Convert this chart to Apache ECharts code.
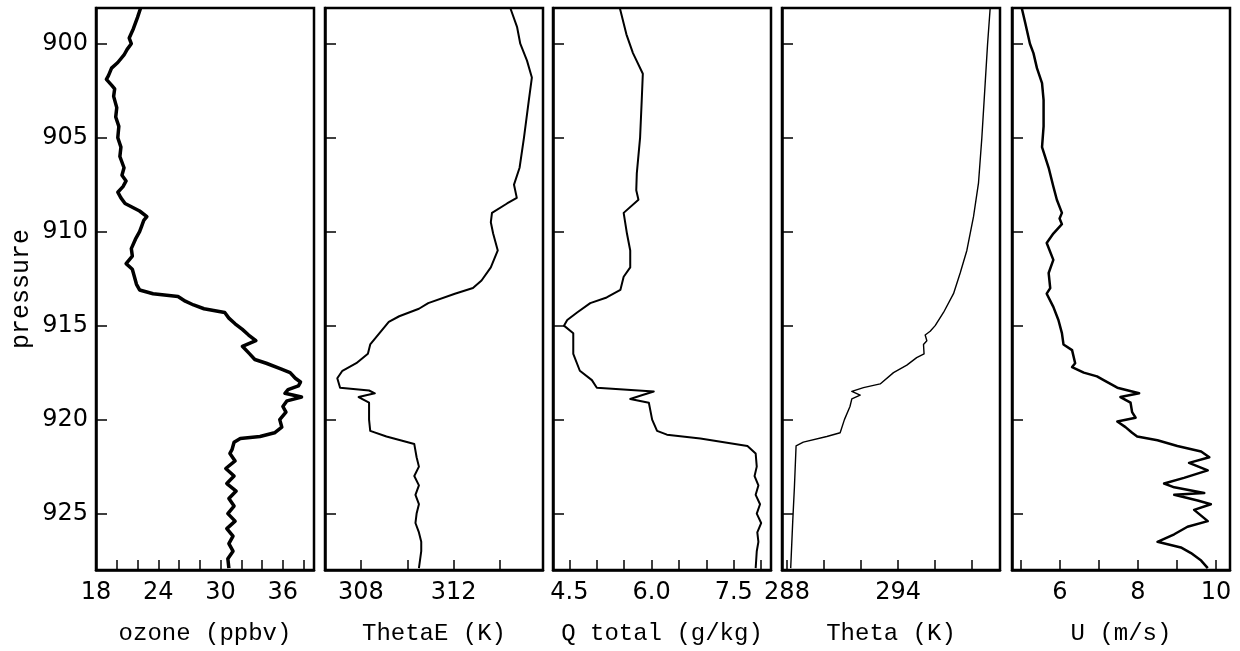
<!DOCTYPE html>
<html>
<head>
<meta charset="utf-8">
<script src="https://cdn.jsdelivr.net/npm/echarts@6/dist/echarts.min.js"></script>
<style>
  html, body { margin: 0; padding: 0; background: #fff; }
  #chart { width: 1240px; height: 651px; }
</style>
</head>
<body>
<div id="chart"></div>
<script>
// --- perfiles (presion en hPa) ---
const ozonePres = [898.1, 898.6, 899.2, 899.7, 900.0, 900.3, 900.6, 901.0, 901.3, 901.7, 901.9, 902.2, 902.4, 902.8, 903.4, 903.9, 904.4, 905.0, 905.5, 906.0, 906.6, 907.0, 907.3, 907.6, 907.9, 908.2, 908.5, 908.9, 909.2, 909.4, 909.7, 910.0, 910.4, 910.9, 911.3, 911.7, 912.0, 912.4, 912.8, 913.1, 913.3, 913.45, 913.7, 913.9, 914.1, 914.3, 914.6, 914.9, 915.2, 915.5, 915.8, 916.1, 916.5, 916.8, 917.0, 917.3, 917.5, 917.8, 918.0, 918.2, 918.4, 918.6, 918.8, 919.0, 919.3, 919.6, 920.0, 920.4, 920.7, 920.9, 921.0, 921.2, 921.6, 921.8, 922.2, 922.6, 923.0, 923.4, 923.8, 924.2, 924.6, 925.0, 925.4, 925.8, 926.2, 926.6, 927.0, 927.4, 927.9];
const ozoneVal = [22.3, 22.0, 21.6, 21.2, 21.4, 21.0, 20.7, 20.1, 19.5, 19.2, 19.0, 19.5, 19.8, 19.7, 20.0, 19.9, 20.2, 20.1, 20.4, 20.3, 20.7, 20.5, 20.9, 20.6, 20.1, 20.4, 20.8, 22.2, 22.9, 22.6, 22.4, 22.2, 21.8, 21.4, 21.5, 20.9, 21.5, 21.7, 21.9, 22.2, 23.5, 25.9, 26.6, 27.4, 28.4, 30.4, 30.8, 31.4, 32.1, 32.7, 33.4, 32.1, 32.8, 33.3, 34.4, 35.8, 36.7, 37.2, 37.7, 37.5, 36.5, 36.2, 37.8, 36.4, 36.0, 36.3, 35.7, 35.9, 35.2, 33.8, 31.9, 31.3, 31.1, 30.9, 31.4, 30.5, 31.3, 30.6, 31.5, 30.8, 31.3, 30.7, 31.4, 30.6, 31.2, 30.8, 31.2, 30.7, 30.8];

const thetaEPres = [898.1, 899.1, 900.0, 900.9, 901.8, 903.0, 905.0, 906.6, 907.5, 908.2, 908.5, 909.0, 909.5, 910.1, 911.0, 911.9, 912.6, 913.0, 913.3, 913.8, 914.1, 914.5, 914.8, 915.4, 916.0, 916.5, 917.0, 917.4, 917.8, 918.3, 918.45, 918.6, 918.8, 919.1, 920.0, 920.6, 920.9, 921.1, 921.3, 922.0, 922.5, 923.0, 923.5, 924.0, 924.5, 925.0, 925.5, 926.0, 926.5, 927.0, 927.9];
const thetaEVal = [314.44, 314.73, 314.87, 315.16, 315.37, 315.24, 315.03, 314.84, 314.6, 314.72, 314.3, 313.65, 313.6, 313.7, 313.9, 313.6, 313.2, 312.83, 312.05, 310.9, 310.5, 309.65, 309.2, 308.8, 308.4, 308.3, 307.8, 307.2, 306.98, 307.1, 308.35, 308.6, 307.9, 308.35, 308.35, 308.4, 309.1, 309.7, 310.3, 310.4, 310.5, 310.3, 310.5, 310.35, 310.5, 310.4, 310.35, 310.5, 310.6, 310.6, 310.5];

const qPres = [898.1, 899.5, 900.5, 901.6, 903.0, 905.0, 906.9, 907.8, 908.3, 909.0, 910.1, 911.0, 911.9, 912.4, 913.1, 913.5, 913.8, 914.3, 914.7, 915.0, 915.4, 916.5, 917.4, 917.9, 918.3, 918.5, 918.7, 918.9, 919.1, 920.0, 920.6, 920.8, 921.0, 921.4, 921.8, 922.5, 923.0, 923.5, 924.0, 924.5, 925.0, 925.5, 926.0, 926.5, 927.0, 927.9];
const qVal = [5.42, 5.54, 5.66, 5.84, 5.82, 5.79, 5.73, 5.72, 5.76, 5.49, 5.55, 5.61, 5.61, 5.49, 5.43, 5.18, 4.88, 4.64, 4.46, 4.40, 4.57, 4.57, 4.69, 4.91, 5.0, 6.04, 5.82, 5.61, 5.95, 6.01, 6.10, 6.28, 6.89, 7.75, 7.90, 7.92, 7.88, 7.95, 7.90, 7.98, 7.92, 8.0, 7.93, 7.95, 7.92, 7.90];

const thetaPres = [898.1, 900.0, 902.1, 905.0, 907.4, 909.2, 911.0, 912.2, 913.3, 914.3, 915.0, 915.3, 915.5, 915.8, 916.0, 916.5, 916.7, 917.1, 917.5, 918.1, 918.3, 918.5, 918.7, 918.9, 919.3, 920.0, 920.7, 920.9, 921.2, 921.4, 923.6, 925.4, 927.9];
const thetaVal = [298.97, 298.83, 298.7, 298.52, 298.34, 298.07, 297.71, 297.35, 296.99, 296.45, 296.0, 295.73, 295.46, 295.55, 295.37, 295.4, 295.0, 294.47, 293.75, 293.03, 292.13, 291.5, 291.95, 291.5, 291.4, 291.1, 290.87, 290.15, 288.88, 288.49, 288.4, 288.31, 288.2];

const uPres = [898.1, 898.9, 900.0, 900.5, 901.3, 902.1, 903.0, 904.4, 905.5, 906.6, 907.6, 908.3, 909.0, 909.3, 909.6, 910.1, 910.6, 911.5, 912.2, 913.0, 913.3, 914.0, 914.7, 915.4, 916.0, 916.3, 917.0, 917.2, 917.5, 917.7, 917.9, 918.3, 918.6, 918.8, 919.1, 919.6, 919.9, 920.1, 920.4, 920.7, 920.9, 921.1, 921.4, 921.7, 922.0, 922.3, 922.7, 923.1, 923.4, 923.6, 923.9, 924.0, 924.3, 924.5, 924.8, 925.4, 925.7, 926.1, 926.5, 926.8, 927.1, 927.5, 927.9];
const uVal = [5.02, 5.11, 5.23, 5.32, 5.41, 5.54, 5.58, 5.58, 5.54, 5.71, 5.83, 5.92, 6.05, 5.99, 6.05, 5.83, 5.66, 5.83, 5.71, 5.75, 5.66, 5.83, 5.96, 6.05, 6.09, 6.31, 6.39, 6.31, 6.61, 6.95, 7.12, 7.47, 8.03, 7.55, 7.81, 7.85, 7.94, 7.47, 7.68, 7.85, 7.98, 8.5, 9.01, 9.62, 9.83, 9.31, 9.79, 9.18, 8.67, 8.93, 9.7, 8.93, 9.53, 9.87, 9.44, 9.79, 9.27, 8.93, 8.5, 9.1, 9.36, 9.62, 9.79];

// --- ejes ---
const presTicks = [900, 905, 910, 915, 920, 925];
const axisNames = ["ozone (ppbv)", "ThetaE (K)", "Q total (g/kg)", "Theta (K)", "U (m/s)"];
const xMins = [18, 306.45, 4.2, 287.73, 4.77];
const xMaxs = [39, 315.85, 8.18, 299.5, 10.36];
const xTicks = [
    [20, 22, 24, 26, 28, 30, 32, 34, 36, 38],
    [308, 310, 312, 314],
    [4.5, 5.0, 5.5, 6.0, 6.5, 7.0, 7.5, 8.0],
    [288, 290, 292, 294, 296, 298],
    [5, 6, 7, 8, 9, 10]
];
const xLabels = [
    [18, 24, 30, 36],
    [308, 312],
    [4.5, 6.0, 7.5],
    [288, 294],
    [6, 8, 10]
];
const lineWidths = [3.5, 2, 2, 1.4, 2.5];

const perfiles = [
    [ozonePres, ozoneVal],
    [thetaEPres, thetaEVal],
    [qPres, qVal],
    [thetaPres, thetaVal],
    [uPres, uVal]
];

const lefts = [96, 325, 553, 782, 1012];

var myChart = echarts.init(document.getElementById("chart"));

const grids = lefts.map((l) => ({
    left: l,
    top: 8,
    width: 218,
    height: 562,
    show: true,
    borderColor: "#000",
    borderWidth: 2.5,
    backgroundColor: "#fff"
}));

const xAxes = lefts.map((l, i) => ({
    type: "value",
    gridIndex: i,
    position: "bottom",
    min: xMins[i],
    max: xMaxs[i],
    splitLine: { show: false },
    axisLine: { show: true, lineStyle: { color: "#000", width: 2.5 } },
    axisTick: {
        show: true,
        inside: true,
        length: 10,
        customValues: xTicks[i],
        lineStyle: { color: "#000", width: 1.5 }
    },
    axisLabel: {
        customValues: xLabels[i],
        color: "#000",
        fontFamily: "DejaVu Sans",
        fontSize: 24,
        margin: 11,
        formatter: (v) => (i === 2 ? Number(v).toFixed(1) : String(v))
    },
    name: axisNames[i],
    nameLocation: "middle",
    nameGap: 52,
    nameTextStyle: { color: "#000", fontFamily: "Liberation Mono", fontSize: 24 }
}));

const yAxes = lefts.map((l, i) => ({
    type: "value",
    gridIndex: i,
    inverse: true,
    min: 898.1,
    max: 928,
    splitLine: { show: false },
    axisLine: { show: true, lineStyle: { color: "#000", width: 2.5 } },
    axisTick: {
        show: true,
        inside: true,
        length: 11,
        customValues: presTicks,
        lineStyle: { color: "#000", width: 1.5 }
    },
    axisLabel: {
        show: i === 0,
        customValues: presTicks,
        color: "#000",
        fontFamily: "DejaVu Sans",
        fontSize: 24,
        margin: 8
    },
    name: i === 0 ? "pressure" : "",
    nameLocation: "middle",
    nameRotate: 90,
    nameGap: 62,
    nameTextStyle: { color: "#000", fontFamily: "Liberation Mono", fontSize: 25 }
}));

const series = perfiles.map((p, i) => ({
    type: "line",
    xAxisIndex: i,
    yAxisIndex: i,
    showSymbol: false,
    clip: true,
    animation: false,
    lineStyle: { color: "#000", width: lineWidths[i], join: "round" },
    data: p[0].map((pres, k) => [p[1][k], pres])
}));

myChart.setOption({
    backgroundColor: "#fff",
    animation: false,
    grid: grids,
    xAxis: xAxes,
    yAxis: yAxes,
    series: series
});
</script>
</body>
</html>
